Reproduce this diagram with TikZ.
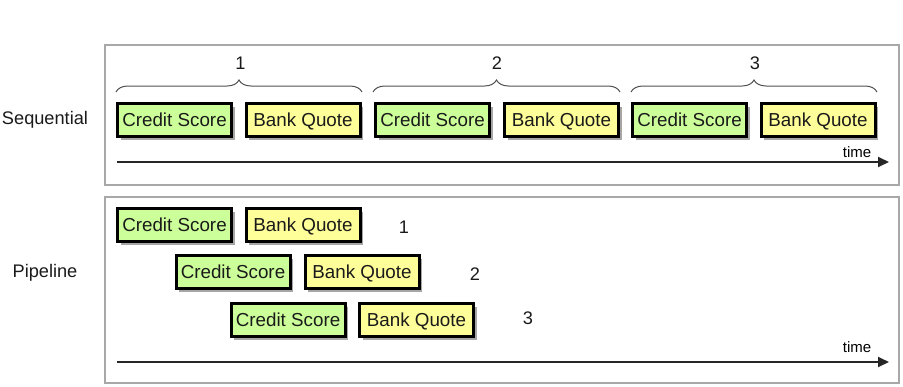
\documentclass[tikz,border=0pt]{standalone}
\usepackage{fontspec}
\setmainfont{Liberation Sans}
\usetikzlibrary{shadows,arrows.meta,decorations.pathreplacing}
\definecolor{csgreen}{HTML}{CCFF99}
\definecolor{bqyellow}{HTML}{FFFF99}
\definecolor{framegray}{HTML}{A8A8A8}
\definecolor{bracegray}{HTML}{505050}
\definecolor{txt}{HTML}{1A1A1A}
\begin{document}
\begin{tikzpicture}[x=1pt,y=-1pt,
  stagebox/.style={draw=black, line width=3pt, minimum width=114pt, minimum height=33pt,
    inner sep=0pt, text=txt, font=\fontsize{18.8}{20}\selectfont,
    text height=13.5pt, text depth=0pt,
    drop shadow={shadow xshift=3pt, shadow yshift=-3.5pt, fill=black, opacity=0.35}},
  csbox/.style={stagebox, fill=csgreen},
  bqbox/.style={stagebox, fill=bqyellow},
  frame/.style={draw=framegray, line width=1.4pt},
  lbl/.style={text=txt, font=\fontsize{18.2}{20}\selectfont, inner sep=0pt},
  timelbl/.style={text=black, font=\fontsize{15}{16}\selectfont, inner sep=0pt},
  axis/.style={draw=black!85, line width=1.8pt, -{Triangle[length=11pt,width=10pt]}},
  grpbrace/.style={draw=bracegray, line width=1pt, decorate,
    decoration={brace, amplitude=12pt, raise=0pt}}
]
\useasboundingbox (0,0) rectangle (903,386);

% frames
\draw[frame] (105,45) rectangle (899,185);
\draw[frame] (105,197) rectangle (899,383);

% side labels
\node[lbl] (seqlbl) at (45,120) {Sequential};
\node[lbl] (pipelbl) at (45,273) {Pipeline};

% sequential row
\node[csbox] (cs1) at (174.5,120) {Credit Score};
\node[bqbox] (bq1) at (303,120) {Bank Quote};
\node[csbox] (cs2) at (432.5,120) {Credit Score};
\node[bqbox] (bq2) at (561.5,120) {Bank Quote};
\node[csbox] (cs3) at (689.5,120) {Credit Score};
\node[bqbox] (bq3) at (818,120) {Bank Quote};

% braces
\coordinate (b1a) at (116,92); \coordinate (b1b) at (362,92);
\coordinate (b2a) at (373,92); \coordinate (b2b) at (620,92);
\coordinate (b3a) at (631,92); \coordinate (b3b) at (877,92);
\draw[grpbrace] (b1a) -- (b1b);
\draw[grpbrace] (b2a) -- (b2b);
\draw[grpbrace] (b3a) -- (b3b);
\node[lbl] (n1) at (240.5,63) {1};
\node[lbl] (n2) at (497,63) {2};
\node[lbl] (n3) at (755,63) {3};

% sequential time axis
\coordinate (sa) at (117,162); \coordinate (sb) at (889,162);
\draw[axis] (sa) -- (sb);
\node[timelbl] (t1) at (857,152) {time};

% pipeline rows
\node[csbox] (pcs1) at (174.5,225) {Credit Score};
\node[bqbox] (pbq1) at (303,225) {Bank Quote};
\node[lbl] (pn1) at (404,227) {1};
\node[csbox] (pcs2) at (233,272) {Credit Score};
\node[bqbox] (pbq2) at (362,272) {Bank Quote};
\node[lbl] (pn2) at (475,274) {2};
\node[csbox] (pcs3) at (288,320) {Credit Score};
\node[bqbox] (pbq3) at (416.5,320) {Bank Quote};
\node[lbl] (pn3) at (528,318) {3};

% pipeline time axis
\coordinate (pa) at (117,362); \coordinate (pb) at (889,362);
\draw[axis] (pa) -- (pb);
\node[timelbl] (t2) at (857,347) {time};
\end{tikzpicture}
\end{document}
